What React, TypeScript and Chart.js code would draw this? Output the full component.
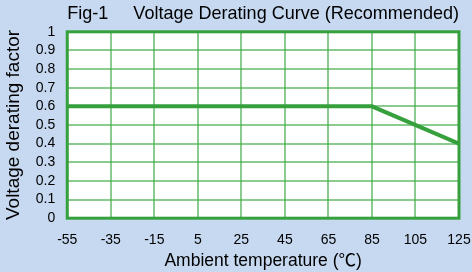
import React, { useEffect, useRef } from "react";
import { Chart, registerables } from "chart.js";

Chart.register(...registerables);

const temperatures = [-55, 85, 125];
const deratingFactors = [0.6, 0.6, 0.4];
const xTicks = [-55, -35, -15, 5, 25, 45, 65, 85, 105, 125];
const yTicks = [0, 0.1, 0.2, 0.3, 0.4, 0.5, 0.6, 0.7, 0.8, 0.9, 1];

const FONT = "'Liberation Sans', Arial, 'Noto Sans CJK SC', sans-serif";
const BG = "#c6d9f0";
const GREEN = "#35a03c";
const GRID = "rgba(60,170,70,0.6)";

const bgPlugin = {
  id: "bgPlugin",
  beforeDraw(chart: any) {
    const { ctx, width, height, chartArea } = chart;
    ctx.save();
    ctx.fillStyle = BG;
    ctx.fillRect(0, 0, width, height);
    ctx.fillStyle = "#ffffff";
    ctx.fillRect(chartArea.left, chartArea.top, chartArea.right - chartArea.left, chartArea.bottom - chartArea.top);
    ctx.restore();
  },
  afterDatasetsDraw(chart: any) {
    const { ctx, chartArea } = chart;
    ctx.save();
    ctx.strokeStyle = GREEN;
    ctx.lineWidth = 3;
    ctx.strokeRect(chartArea.left, chartArea.top, chartArea.right - chartArea.left, chartArea.bottom - chartArea.top);
    ctx.restore();
  },
};

export default function App() {
  const ref = useRef<HTMLCanvasElement>(null);
  useEffect(() => {
    document.body.style.margin = "0";
    document.body.style.background = BG;
    const chart = new Chart(ref.current!, {
      type: "line",
      data: {
        datasets: [
          {
            data: temperatures.map((t, i) => ({ x: t, y: deratingFactors[i] })),
            borderColor: GREEN,
            borderWidth: 4,
            pointRadius: 0,
            fill: false,
            tension: 0,
          },
        ],
      },
      options: {
        animation: false,
        responsive: false,
        layout: { padding: { left: 2, right: 0, top: 0, bottom: 0 } },
        plugins: {
          legend: { display: false },
          tooltip: { enabled: false },
          title: {
            display: true,
            fullSize: false,
            text: "Fig-1     Voltage Derating Curve (Recommended)",
            color: "#000",
            font: { family: FONT, size: 19, weight: "normal" },
            padding: { top: 2, bottom: 7 },
          },
        },
        scales: {
          x: {
            type: "linear",
            min: -55,
            max: 125,
            afterBuildTicks: (axis: any) => {
              axis.ticks = xTicks.map((v) => ({ value: v }));
            },
            afterFit: (axis: any) => {
              axis.paddingRight = 13;
            },
            grid: { color: GRID, lineWidth: 2, drawTicks: false },
            border: { display: false },
            ticks: {
              color: "#000",
              font: { family: FONT, size: 14 },
              padding: 14,
              maxRotation: 0,
              autoSkip: false,
            },
            title: {
              display: true,
              text: "Ambient temperature (℃)",
              color: "#000",
              font: { family: FONT, size: 17.5 },
              padding: { top: -12, bottom: 0 },
            },
          },
          y: {
            type: "linear",
            min: 0,
            max: 1,
            afterBuildTicks: (axis: any) => {
              axis.ticks = yTicks.map((v) => ({ value: v }));
            },
            grid: { color: GRID, lineWidth: 2, drawTicks: false },
            border: { display: false },
            ticks: {
              color: "#000",
              font: { family: FONT, size: 14 },
              padding: 12,
              autoSkip: false,
              callback: (v: any) => String(Math.round(Number(v) * 10) / 10),
            },
            title: {
              display: true,
              text: "Voltage derating factor",
              color: "#000",
              font: { family: FONT, size: 19 },
              padding: { top: 0, bottom: -1 },
            },
          },
        },
      },
      plugins: [bgPlugin],
    });
    return () => chart.destroy();
  }, []);
  return (
    <div style={{ width: 472, height: 272, background: BG }}>
      <canvas ref={ref} width={472} height={272} style={{ display: "block" }} />
    </div>
  );
}
